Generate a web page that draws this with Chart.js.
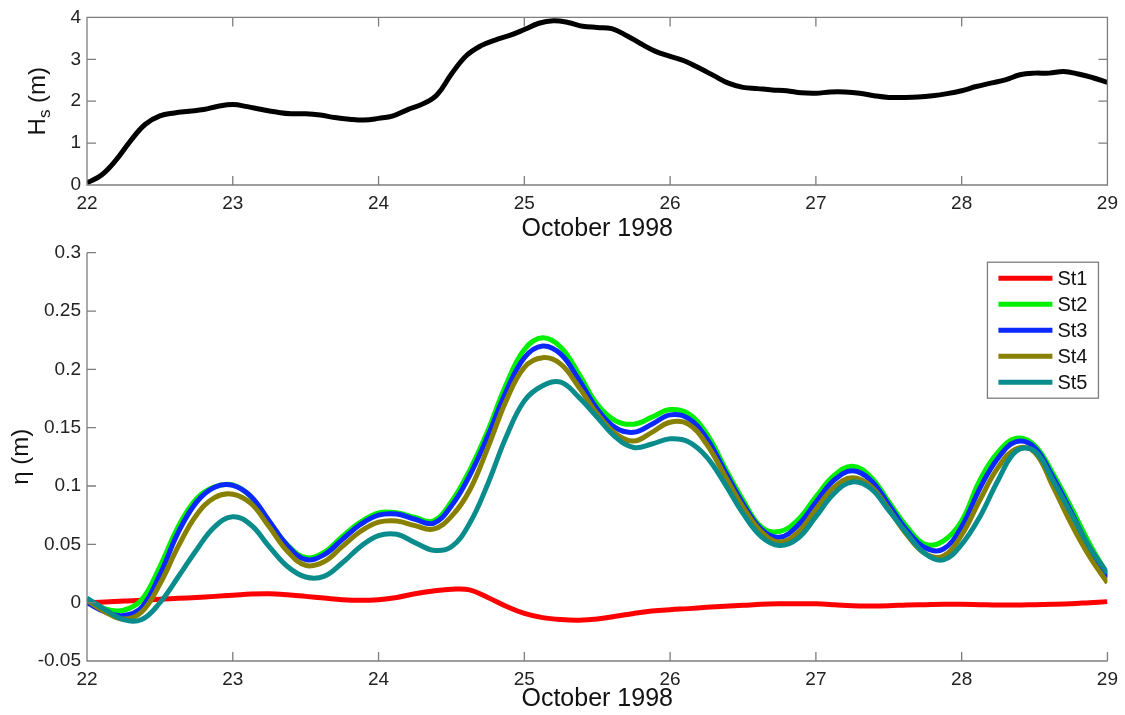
<!DOCTYPE html>
<html>
<head>
<meta charset="utf-8">
<script src="https://cdn.jsdelivr.net/npm/chart.js@4/dist/chart.umd.min.js"></script>
<style>
  html, body { margin: 0; padding: 0; background: #fff; }
  #wrap { position: relative; width: 1125px; height: 715px; overflow: hidden; }
  .panel { position: absolute; left: 0; }
</style>
</head>
<body>
<div id="wrap">
  <div class="panel" style="top:0"><canvas id="hsChart" width="1125" height="245"></canvas></div>
  <div class="panel" style="top:235px"><canvas id="etaChart" width="1125" height="480"></canvas></div>
</div>
<script>
// significant wave height, every 0.1 day
const daysHs = [22.0,22.1,22.2,22.3,22.4,22.5,22.6,22.7,22.8,22.9,23.0,23.1,23.2,23.3,23.4,23.5,23.6,23.7,23.8,23.9,
  24.0,24.1,24.2,24.3,24.4,24.5,24.6,24.7,24.8,24.9,25.0,25.1,25.2,25.3,25.4,25.5,25.6,25.7,25.8,25.9,
  26.0,26.1,26.2,26.3,26.4,26.5,26.6,26.7,26.8,26.9,27.0,27.1,27.2,27.3,27.4,27.5,27.6,27.7,27.8,27.9,
  28.0,28.1,28.2,28.3,28.4,28.5,28.6,28.7,28.8,28.9,29.0];
const hs = [0.05,0.24,0.60,1.06,1.45,1.65,1.72,1.76,1.80,1.88,1.92,1.87,1.80,1.74,1.70,1.70,1.67,1.61,1.57,1.55,
  1.59,1.65,1.80,1.93,2.15,2.65,3.08,3.32,3.46,3.57,3.71,3.86,3.92,3.88,3.79,3.76,3.73,3.57,3.37,3.19,
  3.07,2.96,2.79,2.61,2.43,2.33,2.30,2.27,2.25,2.20,2.19,2.22,2.22,2.19,2.13,2.09,2.09,2.10,2.13,2.18,
  2.25,2.35,2.43,2.51,2.63,2.67,2.67,2.71,2.65,2.56,2.45];

// surge at the five stations, every 1/8 day
const daysEta = [22,22.125,22.25,22.375,22.5,22.625,22.75,22.875,23,23.125,23.25,23.375,23.5,23.625,23.75,23.875,
  24,24.125,24.25,24.375,24.5,24.625,24.75,24.875,25,25.125,25.25,25.375,25.5,25.625,25.75,25.875,
  26,26.125,26.25,26.375,26.5,26.625,26.75,26.875,27,27.125,27.25,27.375,27.5,27.625,27.75,27.875,
  28,28.125,28.25,28.375,28.5,28.625,28.75,28.875,29];
const st1 = [0.0,0.0006,0.0015,0.002,0.003,0.0037,0.0045,0.0054,0.0063,0.0074,0.0077,0.0068,0.0054,0.004,0.0026,0.002,
  0.0026,0.0045,0.0077,0.010,0.0115,0.011,0.0045,-0.003,-0.0092,-0.0128,-0.0145,-0.015,-0.014,-0.0117,-0.0092,-0.0072,
  -0.006,-0.0051,-0.004,-0.0031,-0.0023,-0.0014,-0.001,-0.0009,-0.001,-0.0017,-0.0026,-0.0028,-0.0026,-0.002,-0.0017,-0.0014,
  -0.0014,-0.0017,-0.002,-0.002,-0.0017,-0.0014,-0.0009,0.0,0.0009];
const st2 = [0.0026,-0.0054,-0.0065,0.0026,0.031,0.065,0.089,0.0993,0.101,0.0907,0.069,0.0495,0.0387,0.043,0.0566,0.069,
  0.077,0.077,0.073,0.070,0.0865,0.1135,0.1476,0.187,0.217,0.227,0.219,0.196,0.170,0.156,0.153,0.159,
  0.1655,0.162,0.145,0.116,0.088,0.065,0.061,0.0708,0.0907,0.109,0.117,0.108,0.0865,0.065,0.050,0.053,
  0.070,0.105,0.129,0.141,0.135,0.111,0.082,0.051,0.024];
const st3 = [0.0,-0.008,-0.011,-0.004,0.024,0.060,0.086,0.099,0.1005,0.091,0.070,0.049,0.037,0.041,0.054,0.067,
  0.075,0.076,0.0715,0.068,0.083,0.109,0.143,0.181,0.210,0.220,0.213,0.191,0.166,0.150,0.146,0.153,
  0.161,0.158,0.141,0.113,0.085,0.063,0.056,0.066,0.086,0.105,0.113,0.105,0.084,0.062,0.047,0.046,
  0.065,0.098,0.124,0.138,0.133,0.108,0.078,0.047,0.021];
const st4 = [0.002,-0.008,-0.014,-0.008,0.016,0.048,0.075,0.090,0.093,0.085,0.065,0.044,0.032,0.035,0.048,0.061,
  0.069,0.070,0.066,0.063,0.074,0.0964,0.133,0.173,0.2017,0.210,0.2045,0.1846,0.162,0.145,0.1385,0.146,
  0.1547,0.153,0.136,0.109,0.082,0.061,0.052,0.060,0.080,0.099,0.107,0.100,0.080,0.058,0.042,0.040,
  0.058,0.088,0.116,0.132,0.129,0.100,0.068,0.040,0.017];
const st5 = [0.004,-0.006,-0.0145,-0.0145,0.0,0.022,0.045,0.065,0.0737,0.0666,0.048,0.031,0.022,0.0225,0.034,0.048,
  0.0575,0.0586,0.0515,0.045,0.048,0.068,0.102,0.142,0.173,0.186,0.189,0.176,0.159,0.142,0.133,0.136,
  0.1405,0.138,0.125,0.102,0.0765,0.0566,0.049,0.055,0.0737,0.0936,0.1035,0.098,0.079,0.0594,0.042,0.0367,
  0.050,0.0737,0.105,0.130,0.130,0.105,0.0765,0.048,0.0253];

const stations = ['St1','St2','St3','St4','St5'];
const stationColors = ['#ff0000','#00f000','#0a28ff','#878000','#0a8c8c'];
const stationSeries = [st1, st2, st3, st4, st5];

const FONT = '"Liberation Sans", Arial, Helvetica, sans-serif';
const AXIS_GRAY = '#7d7d7d';

function toPoints(xs, ys){ return xs.map((x,i)=>({x, y: ys[i]})); }

// matlab-like frame: axis lines with inward ticks, optional full box
const framePlugin = {
  id: 'frame',
  afterDatasetsDraw(chart, args, opts){
    const {ctx, chartArea: a, scales: {x, y}} = chart;
    const tl = 9;
    ctx.save();
    ctx.strokeStyle = AXIS_GRAY;
    ctx.lineWidth = 1.3;
    ctx.beginPath();
    if(opts.box){
      ctx.rect(a.left, a.top, a.right - a.left, a.bottom - a.top);
    } else {
      ctx.moveTo(a.left, a.top); ctx.lineTo(a.left, a.bottom); ctx.lineTo(a.right, a.bottom);
    }
    x.ticks.forEach(t=>{
      const px = x.getPixelForValue(t.value);
      ctx.moveTo(px, a.bottom); ctx.lineTo(px, a.bottom - tl);
      if(opts.box){ ctx.moveTo(px, a.top); ctx.lineTo(px, a.top + tl); }
    });
    y.ticks.forEach(t=>{
      const py = y.getPixelForValue(t.value);
      ctx.moveTo(a.left, py); ctx.lineTo(a.left + tl, py);
      if(opts.box){ ctx.moveTo(a.right, py); ctx.lineTo(a.right - tl, py); }
    });
    ctx.stroke();
    ctx.restore();
  }
};

// rotated y title; parts = [[text, size, shift]]
const yTitlePlugin = {
  id: 'ytitle',
  afterDraw(chart, args, opts){
    const {ctx, chartArea: a} = chart;
    ctx.save();
    ctx.fillStyle = '#111';
    ctx.textBaseline = 'middle';
    let total = 0;
    opts.parts.forEach(p=>{ ctx.font = p[1] + 'px ' + FONT; total += ctx.measureText(p[0]).width; });
    ctx.translate(opts.x, (a.top + a.bottom) / 2);
    ctx.rotate(-Math.PI / 2);
    let cx = -total / 2;
    opts.parts.forEach(p=>{
      ctx.font = p[1] + 'px ' + FONT;
      ctx.fillText(p[0], cx, p[2]);
      cx += ctx.measureText(p[0]).width;
    });
    ctx.restore();
  }
};

// boxed legend in the upper right corner of the plot
const boxLegendPlugin = {
  id: 'boxlegend',
  afterDraw(chart){
    const {ctx, chartArea: a} = chart;
    const w = 111, h = 136;
    const left = a.right - 9 - w, top = a.top + 9.5;
    ctx.save();
    ctx.fillStyle = '#fff';
    ctx.fillRect(left, top, w, h);
    ctx.strokeStyle = AXIS_GRAY;
    ctx.lineWidth = 1.3;
    ctx.strokeRect(left, top, w, h);
    ctx.font = '20px ' + FONT;
    ctx.textBaseline = 'middle';
    chart.data.datasets.forEach((ds, i)=>{
      const yy = top + 16 + i * 26;
      ctx.strokeStyle = ds.borderColor;
      ctx.lineWidth = 5;
      ctx.beginPath(); ctx.moveTo(left + 11, yy); ctx.lineTo(left + 65, yy); ctx.stroke();
      ctx.fillStyle = '#111';
      ctx.fillText(ds.label, left + 70, yy + 1);
    });
    ctx.restore();
  }
};

function xScale(height){
  return {
    type: 'linear', min: 22, max: 29,
    grid: {display: false, drawTicks: false}, border: {display: false},
    ticks: {stepSize: 1, padding: 7, color: '#222', font: {family: FONT, size: 19}, maxRotation: 0},
    title: {display: true, text: 'October 1998', color: '#111', font: {family: FONT, size: 25}, padding: {top: 0, bottom: 1}},
    afterFit(s){ s.height = height; }
  };
}

function baseOptions(){
  return {
    responsive: false, animation: false, events: [],
    elements: {point: {radius: 0}, line: {tension: 0.4, borderWidth: 5}},
  };
}

new Chart(document.getElementById('hsChart'), {
  type: 'line',
  data: {datasets: [{label: 'Hs', data: toPoints(daysHs, hs), borderColor: '#000', borderWidth: 5, fill: false}]},
  options: Object.assign(baseOptions(), {
    layout: {padding: {top: 15, right: 13, left: 0, bottom: 0}},
    scales: {
      x: xScale(60),
      y: {
        type: 'linear', min: 0, max: 4,
        grid: {display: false, drawTicks: false}, border: {display: false},
        ticks: {stepSize: 1, padding: 6, color: '#222', font: {family: FONT, size: 19}},
        afterFit(s){ s.width = 87; }
      }
    },
    plugins: {
      legend: {display: false}, tooltip: {enabled: false},
      frame: {box: true},
      ytitle: {x: 38, parts: [['H', 24, 0], ['s', 17, 7], [' (m)', 24, 0]]}
    }
  }),
  plugins: [framePlugin, yTitlePlugin]
});

new Chart(document.getElementById('etaChart'), {
  type: 'line',
  data: {
    datasets: stations.map((name, i)=>({
      label: name,
      data: toPoints(daysEta, stationSeries[i]),
      borderColor: stationColors[i],
      borderWidth: 5,
      fill: false,
      order: stations.length - i
    }))
  },
  options: Object.assign(baseOptions(), {
    layout: {padding: {top: 17.7, right: 13, left: 0, bottom: 0}},
    scales: {
      x: xScale(54),
      y: {
        type: 'linear', min: -0.05, max: 0.3,
        grid: {display: false, drawTicks: false}, border: {display: false},
        ticks: {stepSize: 0.05, padding: 6, color: '#222', font: {family: FONT, size: 19},
          callback: v => String(Math.round(v * 100) / 100)},
        afterFit(s){ s.width = 87; }
      }
    },
    plugins: {
      legend: {display: false}, tooltip: {enabled: false},
      frame: {box: false},
      ytitle: {x: 21, parts: [['η (m)', 24, 0]]}
    }
  }),
  plugins: [framePlugin, yTitlePlugin, boxLegendPlugin]
});
</script>
</body>
</html>
